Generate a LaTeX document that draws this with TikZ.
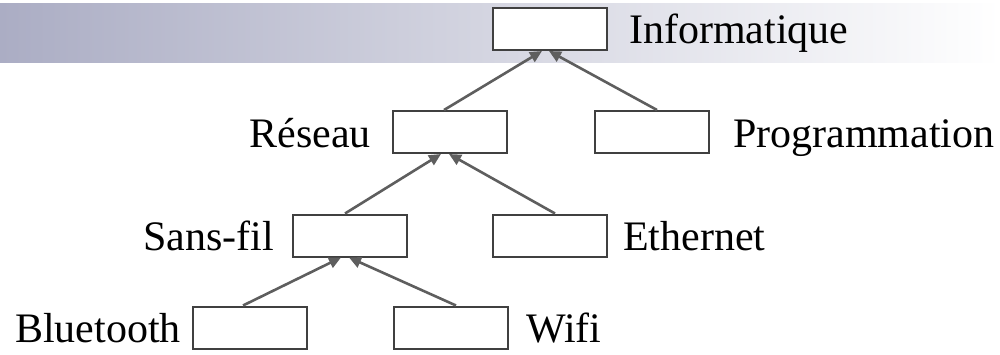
\documentclass[tikz,border=0pt]{standalone}
\usepackage{fontspec}
\setmainfont{Liberation Serif}
\usetikzlibrary{arrows.meta}
\definecolor{bandL}{HTML}{ABADC4}
\definecolor{bandM}{HTML}{E1E2E9}
\definecolor{boxline}{HTML}{404040}
\definecolor{arrline}{HTML}{5E5E5E}
\tikzset{
  orgbox/.style={draw=boxline, line width=2pt, fill=white, minimum width=114pt, minimum height=42pt, inner sep=0pt},
  lbl/.style={font=\fontsize{42}{50}\selectfont, inner sep=0pt, text=black},
  conn/.style={draw=arrline, line width=2.6pt, -{Triangle[length=12pt,width=11pt]}}
}
\begin{document}
\begin{tikzpicture}[x=1pt,y=-1pt]
\useasboundingbox (0,0) rectangle (1000,354);
\shade[left color=bandL, middle color=bandM, right color=white] (0,3) rectangle (1000,62);
% boxes
\node[orgbox] (info) at (550,29) {};
\node[orgbox] (res) at (450,132) {};
\node[orgbox] (prog) at (652,132) {};
\node[orgbox] (sf) at (350,235.5) {};
\node[orgbox] (eth) at (550,235.5) {};
\node[orgbox] (bt) at (250,327.5) {};
\node[orgbox] (wifi) at (451,327.5) {};
% labels
\node[lbl, anchor=base west] (linfo) at ([xshift=21pt,yshift=-14pt]info.east) {Informatique};
\node[lbl, anchor=base east] (lres) at ([xshift=-21pt,yshift=-15pt]res.west) {Réseau};
\node[lbl, anchor=base west] (lprog) at ([xshift=23pt,yshift=-15pt]prog.east) {Programmation};
\node[lbl, anchor=base east] (lsf) at ([xshift=-18pt,yshift=-15pt]sf.west) {Sans-fil};
\node[lbl, anchor=base west] (leth) at ([xshift=15pt,yshift=-15pt]eth.east) {Ethernet};
\node[lbl, anchor=base east] (lbt) at ([xshift=-11pt,yshift=-15pt]bt.west) {Bluetooth};
\node[lbl, anchor=base west] (lwifi) at ([xshift=17pt,yshift=-15pt]wifi.east) {Wifi};
% connectors
\draw[conn] ([xshift=-6pt]res.north) -- ([xshift=-8pt]info.south);
\draw[conn] ([xshift=5pt]prog.north) -- ([xshift=-1pt]info.south);
\draw[conn] ([xshift=-5pt]sf.north) -- ([xshift=-9pt]res.south);
\draw[conn] ([xshift=5pt]eth.north) -- ([xshift=-1pt]res.south);
\draw[conn] ([xshift=-7pt]bt.north) -- ([xshift=-9pt]sf.south);
\draw[conn] ([xshift=5pt]wifi.north) -- ([xshift=-1pt]sf.south);
\end{tikzpicture}
\end{document}
